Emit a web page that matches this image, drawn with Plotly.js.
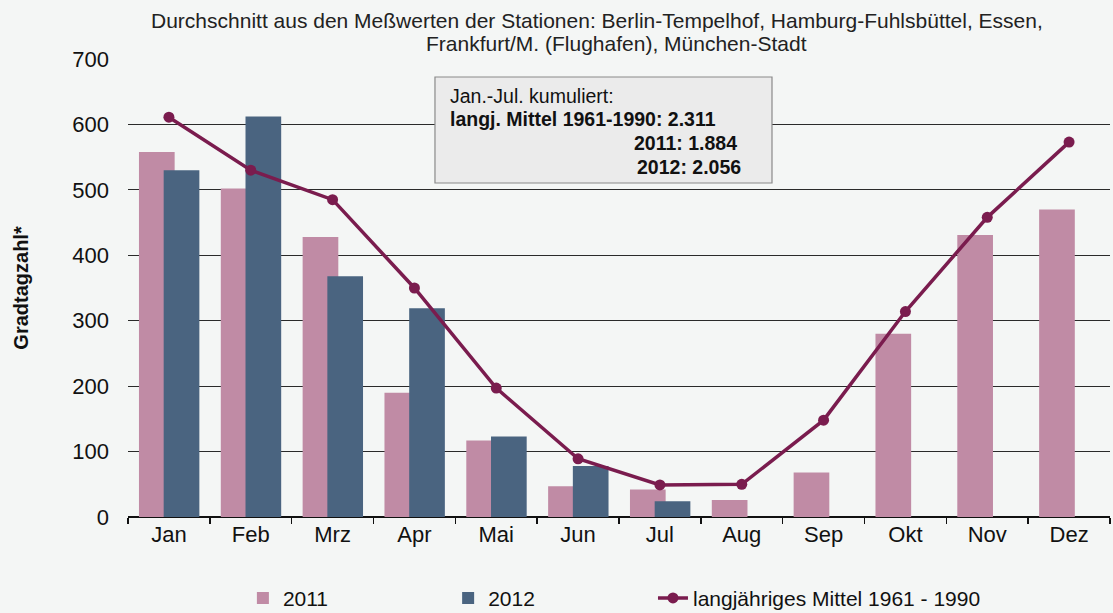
<!DOCTYPE html>
<html>
<head>
<meta charset="utf-8">
<script src="https://cdn.plot.ly/plotly-3.0.1.min.js"></script>
<style>html,body{margin:0;padding:0;background:#f4f6f5;}#chart{width:1113px;height:613px;}</style>
</head>
<body>
<div id="chart"></div>
<script>
const months = ["Jan","Feb","Mrz","Apr","Mai","Jun","Jul","Aug","Sep","Okt","Nov","Dez"];
const values2011 = [558,502,428,190,117,47,42,26,68,280,431,470];
const months2012 = ["Jan","Feb","Mrz","Apr","Mai","Jun","Jul"];
const values2012 = [530,612,368,319,123,78,24];
const mittel = [611,530,485,350,197,89,49,50,148,314,458,573];
const yTicks = [0,100,200,300,400,500,600,700];
const titleLines = ["Durchschnitt aus den Meßwerten der Stationen: Berlin-Tempelhof, Hamburg-Fuhlsbüttel, Essen,",
                    "Frankfurt/M. (Flughafen), München-Stadt"];
const infoLines = ["Jan.-Jul. kumuliert:", "langj. Mittel 1961-1990: 2.311", "2011: 1.884", "2012: 2.056"];

const font = "Liberation Sans, Arial, sans-serif";
const traces = [
  {type:"bar", name:"2011", x:months, y:values2011, marker:{color:"#c08ba5"}, width:0.436, offset:-0.366, legend:"legend"},
  {type:"bar", name:"2012", x:months2012, y:values2012, marker:{color:"#4a6480"}, width:0.436, offset:-0.064, legend:"legend2"},
  {type:"scatter", mode:"lines+markers", name:"langjähriges Mittel 1961 - 1990", x:months, y:mittel,
   line:{color:"#7a1c4e", width:3.5}, marker:{color:"#7a1c4e", size:11}, legend:"legend3"}
];
const legBase = {orientation:"h", xanchor:"left", xref:"paper", yref:"container", y:0.024, yanchor:"middle",
                 font:{size:21, color:"#111"}, bgcolor:"rgba(0,0,0,0)"};
const layout = {
  width:1113, height:613,
  paper_bgcolor:"#f4f6f5", plot_bgcolor:"#f4f6f5",
  margin:{l:128, r:3, t:59, b:96},
  font:{family:font, color:"#111", size:21},
  barmode:"overlay",
  showlegend:true,
  legend:Object.assign({}, legBase, {x:0.117}),
  legend2:Object.assign({}, legBase, {x:0.326}),
  legend3:Object.assign({}, legBase, {x:0.5346}),
  xaxis:{type:"category", categoryorder:"array", categoryarray:months, range:[-0.5,11.5], tickson:"boundaries",
         ticks:"outside", ticklen:6, tickcolor:"#111", tickwidth:1.5, automargin:false,
         showline:false, showgrid:false, tickfont:{size:22, color:"#111"}, ticklabelstandoff:2},
  yaxis:{range:[0,700], tickvals:yTicks, ticks:"", showgrid:true, gridcolor:"#2a2a2a", gridwidth:1, automargin:false,
         zeroline:true, zerolinecolor:"#111", zerolinewidth:2.5, showline:false, tickfont:{size:22, color:"#111"}, ticklabelstandoff:18,
         title:{text:"<b>Gradtagzahl*</b>", font:{size:20, color:"#111"}, standoff:38}},
  shapes:[{type:"rect", xref:"paper", yref:"paper", x0:0.3126, x1:0.6558, y0:0.7293, y1:0.9607,
           fillcolor:"#ebebeb", line:{color:"#8a8a8a", width:1.2}}],
  annotations:[
    {xref:"paper", yref:"paper", x:0.4776, y:1.085, xanchor:"center", yanchor:"middle", showarrow:false, text:titleLines[0], font:{size:21, color:"#222"}},
    {xref:"paper", yref:"paper", x:0.497, y:1.0328, xanchor:"center", yanchor:"middle", showarrow:false, text:titleLines[1], font:{size:21, color:"#222"}},
    {xref:"paper", yref:"paper", x:0.326, y:0.919, xanchor:"left", yanchor:"middle", showarrow:false, text:infoLines[0], font:{size:19.5, color:"#111"}},
    {xref:"paper", yref:"paper", x:0.326, y:0.869, xanchor:"left", yanchor:"middle", showarrow:false, text:"<b>"+infoLines[1]+"</b>", font:{size:19.5, color:"#111"}},
    {xref:"paper", yref:"paper", x:0.6222, y:0.8166, xanchor:"right", yanchor:"middle", showarrow:false, text:"<b>"+infoLines[2]+"</b>", font:{size:19.5, color:"#111"}},
    {xref:"paper", yref:"paper", x:0.6263, y:0.7642, xanchor:"right", yanchor:"middle", showarrow:false, text:"<b>"+infoLines[3]+"</b>", font:{size:19.5, color:"#111"}}
  ]
};
Plotly.newPlot("chart", traces, layout, {displayModeBar:false, staticPlot:true});
</script>
</body>
</html>
